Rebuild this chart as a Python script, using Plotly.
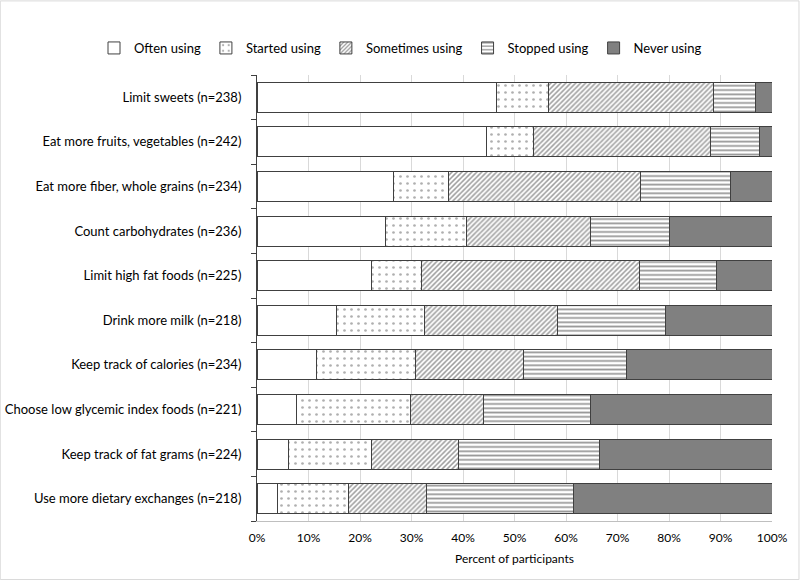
import plotly.graph_objects as go

categories = [
    "Limit sweets (n=238)",
    "Eat more fruits, vegetables (n=242)",
    "Eat more fiber, whole grains (n=234)",
    "Count carbohydrates (n=236)",
    "Limit high fat foods (n=225)",
    "Drink more milk (n=218)",
    "Keep track of calories (n=234)",
    "Choose low glycemic index foods (n=221)",
    "Keep track of fat grams (n=224)",
    "Use more dietary exchanges (n=218)",
]
often_using = [46.5, 44.5, 26.5, 24.9, 22.2, 15.5, 11.5, 7.6, 6.1, 4.0]
started_using = [10.1, 9.2, 10.7, 15.7, 9.7, 17.0, 19.2, 22.2, 16.1, 13.8]
sometimes_using = [32.0, 34.3, 37.2, 24.1, 42.3, 25.8, 21.0, 14.1, 17.0, 15.1]
stopped_using = [8.1, 9.6, 17.5, 15.4, 15.1, 21.1, 20.1, 20.8, 27.3, 28.6]
never_using = [3.3, 2.4, 8.1, 19.9, 10.7, 20.6, 28.2, 35.3, 33.5, 38.5]

series_names = ["Often using", "Started using", "Sometimes using", "Stopped using", "Never using"]
series_values = [often_using, started_using, sometimes_using, stopped_using, never_using]

styles = [
    dict(color="white", pattern=dict(shape="")),
    dict(color="white", pattern=dict(shape=".", fgcolor="#606060", bgcolor="white", size=7, solidity=0.12)),
    dict(color="white", pattern=dict(shape="/", fgcolor="#404040", bgcolor="white", size=3.5, solidity=0.45)),
    dict(color="white", pattern=dict(shape="-", fgcolor="#303030", bgcolor="white", size=4.3, solidity=0.4)),
    dict(color="#808080", pattern=dict(shape="")),
]

fig = go.Figure()
for name, vals, st in zip(series_names, series_values, styles):
    fig.add_trace(go.Bar(
        y=categories, x=vals, name=name, orientation="h",
        marker=dict(color=st["color"], pattern=st["pattern"],
                    line=dict(color="#404040", width=1)),
    ))

W, H = 800, 580
l, r, t, b = 257, 28, 75, 59
pw, ph = W - l - r, H - t - b

fig.update_layout(
    width=W, height=H,
    barmode="stack", bargap=0.33,
    paper_bgcolor="white", plot_bgcolor="white",
    margin=dict(l=l, r=r, t=t, b=b, pad=0, autoexpand=False),
    font=dict(family="Lato, Open Sans, sans-serif", size=13, color="#000000"),
    legend=dict(orientation="h", xref="paper", yref="paper",
                x=(94 - l) / pw, xanchor="left", y=1 + (t - 48) / ph, yanchor="middle",
                font=dict(size=13), traceorder="normal", itemwidth=30,
                bgcolor="rgba(0,0,0,0)"),
    xaxis=dict(range=[0, 100], dtick=10, ticksuffix="%", showgrid=True,
               gridcolor="#d9d9d9", gridwidth=1, zeroline=False,
               showline=True, linecolor="#bfbfbf", ticks="",
               ticklabelstandoff=6, automargin=False,
               title=dict(text="Percent of participants", font=dict(size=12), standoff=10),
               tickfont=dict(size=12)),
    yaxis=dict(categoryorder="array", categoryarray=categories[::-1],
               showline=True, linecolor="#404040", ticks="outside",
               tickson="boundaries", ticklen=5, tickcolor="#404040",
               showgrid=False, ticklabelstandoff=12, automargin=False,
               tickfont=dict(size=13)),
    shapes=[dict(type="rect", xref="paper", yref="paper",
                 x0=-l / pw + 0.0005, x1=1 + r / pw - 0.002,
                 y0=-b / ph + 0.001, y1=1 + t / ph - 0.002,
                 line=dict(color="#d9d9d9", width=1))],
)

fig.write_html("out.html", config={"displayModeBar": False})

with open("out.html", "r", encoding="utf-8") as f:
    html = f.read()
html = html.replace("<body>", '<body style="margin:0;padding:0;overflow:hidden">', 1)
with open("out.html", "w", encoding="utf-8") as f:
    f.write(html)
